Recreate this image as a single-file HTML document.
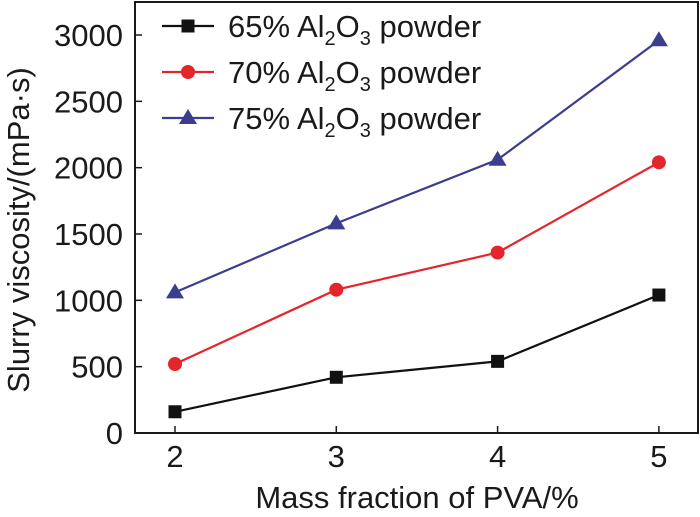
<!DOCTYPE html>
<html><head><meta charset="utf-8"><style>
body{margin:0;background:#fff}
svg text{font-family:"Liberation Sans",Arial,sans-serif;fill:#1a1a1a}
</style></head><body>
<svg width="700" height="512" viewBox="0 0 700 512">
</svg>
<script>
const categories=[2,3,4,5];
const yTicks=[0,500,1000,1500,2000,2500,3000];
const s65=[160,420,540,1040];
const s70=[520,1080,1360,2040];
const s75=[1060,1580,2060,2960];
const seriesNames=["65%","70%","75%"];
const NS="http://www.w3.org/2000/svg";
const svg=document.querySelector('svg');
const L=135,R=698,T=2,B=433;
const x=v=>175+(v-2)*161.3;
const y=v=>B-(v)*(433-35)/3000;
function el(t,a,p){const e=document.createElementNS(NS,t);for(const k in a)e.setAttribute(k,a[k]);(p||svg).appendChild(e);return e;}
const frame=el('rect',{x:L,y:T,width:R-L,height:B-T,fill:'none',stroke:'#1a1a1a','stroke-width':2});


yTicks.forEach(v=>{
 const ln=el('line',{x1:L,x2:L+7,y1:y(v),y2:y(v),stroke:'#1a1a1a','stroke-width':1.5});
 
 
 const t=el('text',{x:L-12,y:y(v)+11,'text-anchor':'end','font-size':31});
 t.textContent=v;
 
 
});
categories.forEach(v=>{
 const ln=el('line',{x1:x(v),x2:x(v),y1:B,y2:B-7,stroke:'#1a1a1a','stroke-width':1.5});
 
 
 const t=el('text',{x:x(v),y:467,'text-anchor':'middle','font-size':31});
 t.textContent=v;
 
 
});
const xt=el('text',{x:417,y:508,'text-anchor':'middle','font-size':31});
xt.textContent='Mass fraction of PVA/%';


const yt=el('text',{x:0,y:0,'text-anchor':'middle','font-size':31,transform:'translate(29,230) rotate(-90)'});
yt.textContent='Slurry viscosity/(mPa·s)';


const colors=['#111','#e3262b','#3d3d8f'];
function marker(i,cx,cy,g){
 if(i===0)return el('rect',{x:cx-6.5,y:cy-6.5,width:13,height:13,fill:colors[0]},g);
 if(i===1)return el('circle',{cx:cx,cy:cy,r:7,fill:colors[1]},g);
 return el('polygon',{points:`${cx},${cy-9} ${cx-9},${cy+6} ${cx+9},${cy+6}`,fill:colors[2]},g);
}
[s65,s70,s75].forEach((s,i)=>{
 const g=el('g',{});
 
 
 el('polyline',{points:s.map((v,j)=>x(categories[j])+','+y(v)).join(' '),fill:'none',stroke:colors[i],'stroke-width':2.2},g);
 s.forEach((v,j)=>{
  const m=marker(i,x(categories[j]),y(v),g);
  
  
 });
 const ly=26+i*46;
 const lg=el('g',{});
 
 
 el('line',{x1:162,x2:214,y1:ly,y2:ly,stroke:colors[i],'stroke-width':2.2},lg);
 marker(i,188,ly,lg);
 const t=el('text',{x:228,y:ly+11,'font-size':31},lg);
 t.innerHTML=seriesNames[i]+' Al<tspan font-size="20" dy="8">2</tspan><tspan dy="-8">O</tspan><tspan font-size="20" dy="8">3</tspan><tspan dy="-8"> powder</tspan>';
});
</script>
</body></html>
